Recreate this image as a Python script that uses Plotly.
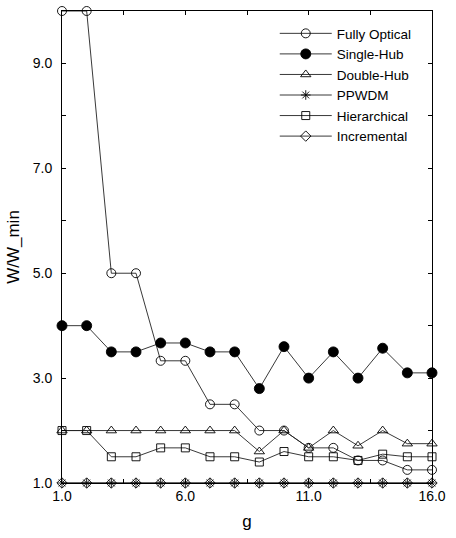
import plotly.graph_objects as go

g = list(range(1, 17))
fully_optical = [10.0, 10.0, 5.0, 5.0, 3.33, 3.33, 2.5, 2.5, 2.0, 2.0, 1.67, 1.67, 1.43, 1.43, 1.25, 1.25]
single_hub = [4.0, 4.0, 3.5, 3.5, 3.67, 3.67, 3.5, 3.5, 2.8, 3.6, 3.0, 3.5, 3.0, 3.57, 3.1, 3.1]
double_hub = [2.0, 2.0, 2.0, 2.0, 2.0, 2.0, 2.0, 2.0, 1.6, 2.0, 1.67, 2.0, 1.71, 2.0, 1.75, 1.75]
ppwdm = [1.0] * 16
hierarchical = [2.0, 2.0, 1.5, 1.5, 1.67, 1.67, 1.5, 1.5, 1.4, 1.6, 1.5, 1.5, 1.43, 1.55, 1.5, 1.5]
incremental = [1.0] * 16

x_tickvals = [1, 3.5, 6, 8.5, 11, 13.5, 16]
x_ticktext = ["1.0", "", "6.0", "", "11.0", "", "16.0"]
y_tickvals = [1, 2, 3, 4, 5, 6, 7, 8, 9, 10]
y_ticktext = ["1.0", "", "3.0", "", "5.0", "", "7.0", "", "9.0", ""]

series = [
    ("Fully Optical", fully_optical, "circle-open", 9, "solid"),
    ("Single-Hub", single_hub, "circle", 10, "solid"),
    ("Double-Hub", double_hub, "triangle-up-open", 9, "solid"),
    ("PPWDM", ppwdm, "asterisk-open", 8, "solid"),
    ("Hierarchical", hierarchical, "square-open", 8, "solid"),
    ("Incremental", incremental, "diamond-open", 8, "solid"),
]

fig = go.Figure()
for name, vals, sym, size, dash in series:
    fig.add_trace(go.Scatter(
        x=g, y=vals, name=name, mode="lines+markers",
        line=dict(color="#222", width=0.9, dash=dash),
        marker=dict(symbol=sym, size=size, color="black",
                    line=dict(color="black", width=0.9)),
        cliponaxis=False,
    ))

font = "Liberation Sans, Arial, Helvetica, sans-serif"
fig.update_layout(
    width=456, height=538,
    margin=dict(l=62, r=17, t=10, b=41),
    paper_bgcolor="white", plot_bgcolor="white",
    font=dict(family=font, size=14, color="black"),
    showlegend=True,
    legend=dict(x=0.575, y=0.985, xanchor="left", yanchor="top",
                bgcolor="rgba(0,0,0,0)", font=dict(size=13.5),
                tracegroupgap=0, itemwidth=52),
    xaxis=dict(range=[1, 16], tickvals=x_tickvals, ticktext=x_ticktext,
               ticks="inside", ticklen=4, tickcolor="black",
               showline=True, linecolor="black", linewidth=1, mirror="ticks",
               showgrid=False, zeroline=False,
               title=dict(text="g", standoff=12)),
    yaxis=dict(range=[1, 10], tickvals=y_tickvals, ticktext=y_ticktext,
               ticks="inside", ticklen=4, tickcolor="black",
               showline=True, linecolor="black", linewidth=1, mirror="ticks",
               showgrid=False, zeroline=False, ticklabelstandoff=6,
               title=dict(text="W/W_min", standoff=8)),
)

fig.write_html("out.html")
